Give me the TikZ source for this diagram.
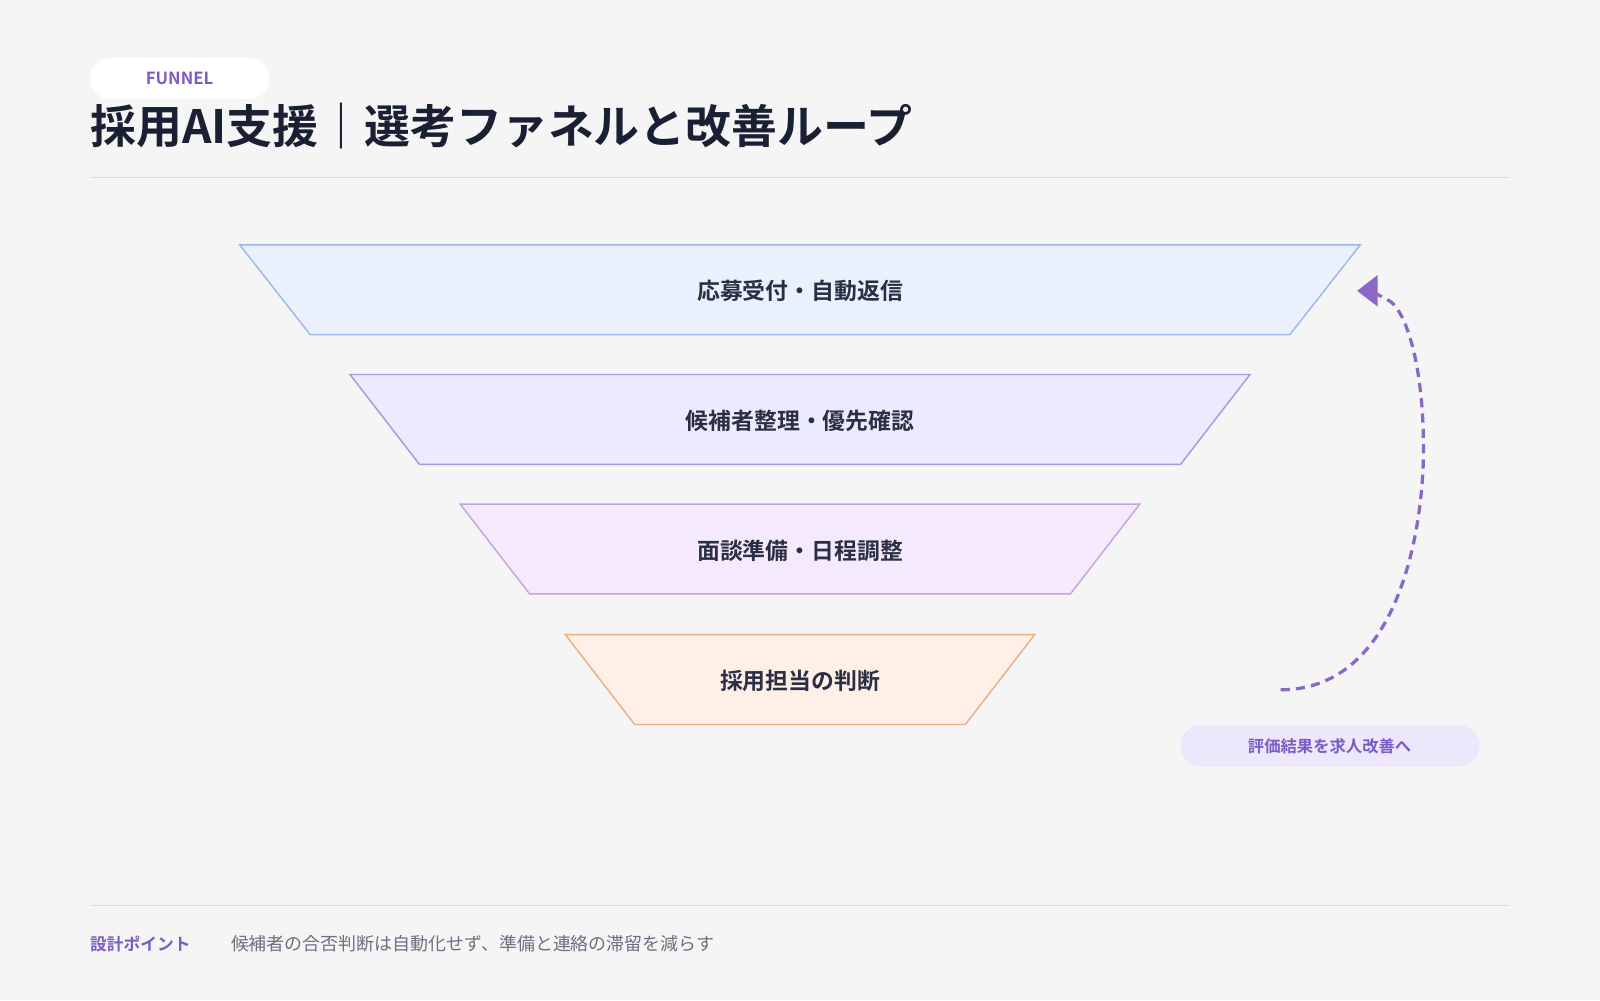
\documentclass[tikz,border=0pt]{standalone}
\usepackage{fontspec}
\setmainfont{Noto Sans CJK JP}[BoldFont={Noto Sans CJK JP Bold}]
\usetikzlibrary{arrows.meta}
\definecolor{bgc}{HTML}{F5F5F5}
\definecolor{ink}{HTML}{1A2033}
\definecolor{labc}{HTML}{2A2F45}
\definecolor{purp}{HTML}{7B5CC4}
\definecolor{arrc}{HTML}{8A68C8}
\definecolor{fA}{HTML}{EAF1FD}\definecolor{sA}{HTML}{9DB5EE}
\definecolor{fB}{HTML}{ECEAFD}\definecolor{sB}{HTML}{A796E4}
\definecolor{fC}{HTML}{F5EAFB}\definecolor{sC}{HTML}{C9A0E4}
\definecolor{fD}{HTML}{FEEFE7}\definecolor{sD}{HTML}{EFAE80}
\definecolor{pill}{HTML}{EDE7FC}
\definecolor{rule}{HTML}{DCDDE6}
\definecolor{grayt}{HTML}{6B7080}
\tikzset{
  stage/.style={font=\bfseries\fontsize{11.2}{13}\selectfont, text=labc},
  band/.style={line width=0.7pt},
}
\begin{document}
\begin{tikzpicture}[x=0.5pt,y=-0.5pt]
  \fill[bgc] (0,0) rectangle (1568,980);
  \useasboundingbox (0,0) rectangle (1568,980);
  % header
  \fill[white, rounded corners=10pt] (88,57) rectangle (264,97);
  \node[text=purp, font=\bfseries\fontsize{8.2}{9}\selectfont] (tag) at (176,77) {FUNNEL};
  \node[anchor=west, text=ink, font=\bfseries\fontsize{22.5}{26}\selectfont, inner sep=0pt] (title) at (88,124) {採用AI支援｜選考ファネルと改善ループ};
  \draw[rule, line width=0.6pt] (88,174) -- (1480,174);
  % funnel
  \draw[band, fill=fA, draw=sA] (235,240) -- (1333,240) -- (1264,328) -- (304,328) -- cycle;
  \node[stage] (s1) at (784,285) {応募受付・自動返信};
  \draw[band, fill=fB, draw=sB] (343,367) -- (1225,367) -- (1157,455) -- (411,455) -- cycle;
  \node[stage] (s2) at (784,412) {候補者整理・優先確認};
  \draw[band, fill=fC, draw=sC] (451,494) -- (1117,494) -- (1049,582) -- (519,582) -- cycle;
  \node[stage] (s3) at (784,540) {面談準備・日程調整};
  \draw[band, fill=fD, draw=sD] (554,622) -- (1014,622) -- (946,710) -- (622,710) -- cycle;
  \node[stage] (s4) at (784,667) {採用担当の判断};
  % loop
  \coordinate (loopS) at (1255,676);
  \coordinate (loopE) at (1330,285);
  \draw[arrc, line width=1.6pt, dash pattern=on 4.5pt off 3pt, -{Triangle[length=10pt,width=15pt]}]
    (loopS) .. controls (1370,676) and (1395,520) .. (1395,440)
    .. controls (1395,350) and (1375,300) .. (1360,294)
    .. controls (1350,288) and (1340,285) .. (loopE);
  \fill[pill, rounded corners=10pt] (1157,711) rectangle (1450,751);
  \node[text=purp, font=\bfseries\fontsize{8}{9}\selectfont] (fb) at (1303,731) {評価結果を求人改善へ};
  % footer
  \draw[rule, line width=0.6pt] (88,887) -- (1480,887);
  \node[anchor=west, inner sep=0pt, text=purp, font=\bfseries\fontsize{8.2}{9}\selectfont] (pt) at (88,925) {設計ポイント};
  \node[anchor=west, inner sep=0pt, text=grayt, font=\fontsize{8.8}{9}\selectfont] (note) at (226,925) {候補者の合否判断は自動化せず、準備と連絡の滞留を減らす};
\end{tikzpicture}
\end{document}
